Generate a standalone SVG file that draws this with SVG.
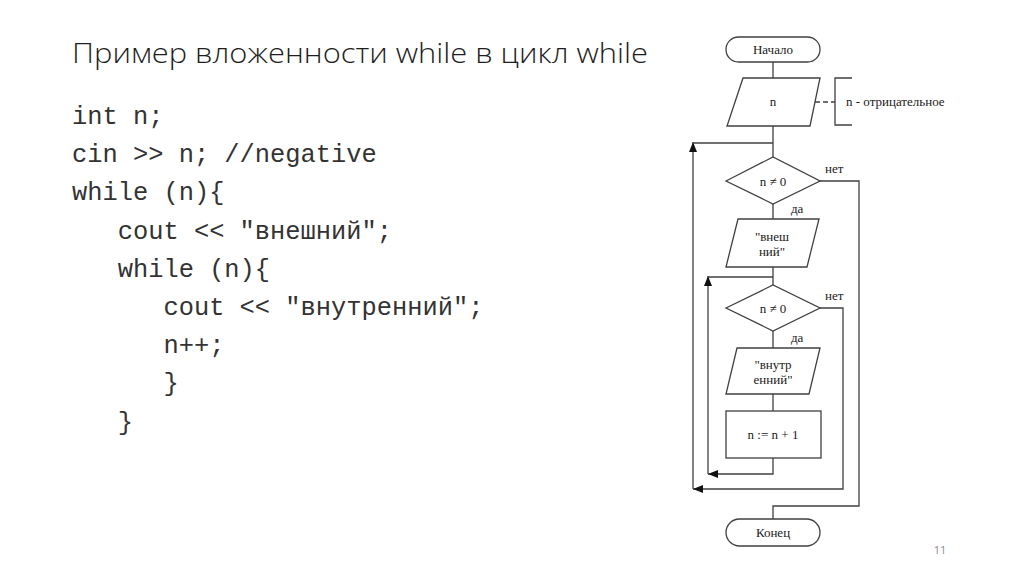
<svg xmlns="http://www.w3.org/2000/svg" width="1024" height="574" viewBox="0 0 1024 574">
<defs>
<style>
.title{font-family:"Open Sans","Liberation Sans",sans-serif;font-weight:300;font-size:27px;fill:#1e1e1e}
.code{font-family:"Liberation Mono","DejaVu Sans Mono",monospace;font-size:25.4px;fill:#333;white-space:pre}
.fc{font-family:"Liberation Serif","DejaVu Serif",serif;font-size:13px;fill:#1a1a1a}
.mid{text-anchor:middle}
.shape{fill:#fff;stroke:#404040;stroke-width:1.3}
.conn{fill:none;stroke:#404040;stroke-width:1.3}
.pnum{font-family:"Open Sans","Liberation Sans",sans-serif;font-size:11px;fill:#8c8c8c}
</style>
<marker id="arr" viewBox="0 0 10 8" refX="10" refY="4" markerWidth="10" markerHeight="8" markerUnits="userSpaceOnUse" orient="auto">
<path d="M0,0 L10,4 L0,8 Z" fill="#111"/>
</marker>
</defs>
<rect width="1024" height="574" fill="#fff"/>
<text class="title" x="72" y="63" textLength="576" lengthAdjust="spacingAndGlyphs">Пример вложенности while в цикл while</text>
<g id="code">
<text class="code" x="72" y="124">int n;</text>
<text class="code" x="72" y="162">cin &gt;&gt; n; //negative</text>
<text class="code" x="72" y="200">while (n){</text>
<text class="code" x="72" y="238.5">   cout &lt;&lt; "внешний";</text>
<text class="code" x="72" y="277">   while (n){</text>
<text class="code" x="72" y="315">      cout &lt;&lt; "внутренний";</text>
<text class="code" x="72" y="353">      n++;</text>
<text class="code" x="72" y="391">      }</text>
<text class="code" x="72" y="430">   }</text>
</g>
<g id="connectors">
<path class="conn" d="M773,62 V78"/>
<path class="conn" d="M773,126 V157"/>
<path class="conn" d="M773,204 V219"/>
<path class="conn" d="M773,267 V285"/>
<path class="conn" d="M773,331 V348"/>
<path class="conn" d="M773,394 V411"/>
<path class="conn" d="M820,181 H859 V506 H773 V519"/>
<path class="conn" d="M820,308 H843 V489 H693" marker-end="url(#arr)"/>
<path class="conn" d="M693,489 V142" marker-end="url(#arr)"/>
<path class="conn" d="M693,143 H773"/>
<path class="conn" d="M773,458 V474 H708" marker-end="url(#arr)"/>
<path class="conn" d="M708,474 V276" marker-end="url(#arr)"/>
<path class="conn" d="M708,277 H773"/>
<path class="conn" d="M815,102 H835" stroke-dasharray="5,3"/>
<text class="fc" x="825" y="173">нет</text>
<text class="fc" x="791" y="213">да</text>
<text class="fc" x="825" y="300">нет</text>
<text class="fc" x="791" y="342">да</text>
</g>
<g id="start">
<rect class="shape" x="726" y="37" width="94" height="25" rx="12.5"/>
<text class="fc mid" x="773" y="54">Начало</text>
</g>
<g id="input">
<polygon class="shape" points="743,78 820,78 810,126 727,126"/>
<text class="fc mid" x="773" y="106">n</text>
</g>
<g id="note">
<path class="conn" d="M852,78 H835 V125 H852"/>
<text class="fc" x="846" y="106">n - отрицательное</text>
</g>
<g id="cond1">
<polygon class="shape" points="726,181 773,157 820,181 773,204"/>
<text class="fc mid" x="773" y="185.5">n ≠ 0</text>
</g>
<g id="out1">
<polygon class="shape" points="738,219 819,219 807,267 726,267"/>
<text class="fc mid" x="772" y="241">"внеш</text>
<text class="fc mid" x="772" y="256">ний"</text>
</g>
<g id="cond2">
<polygon class="shape" points="726,308 773,285 820,308 773,331"/>
<text class="fc mid" x="773" y="312.5">n ≠ 0</text>
</g>
<g id="out2">
<polygon class="shape" points="737,348 820,348 809,394 726,394"/>
<text class="fc mid" x="773" y="369">"внутр</text>
<text class="fc mid" x="773" y="384">енний"</text>
</g>
<g id="incr">
<rect class="shape" x="726" y="411" width="95" height="47"/>
<text class="fc mid" x="773" y="439">n := n + 1</text>
</g>
<g id="end">
<rect class="shape" x="726" y="519" width="94" height="27" rx="13.5"/>
<text class="fc mid" x="773" y="537">Конец</text>
</g>
<text class="pnum" x="940" y="554" text-anchor="middle">11</text>
</svg>
